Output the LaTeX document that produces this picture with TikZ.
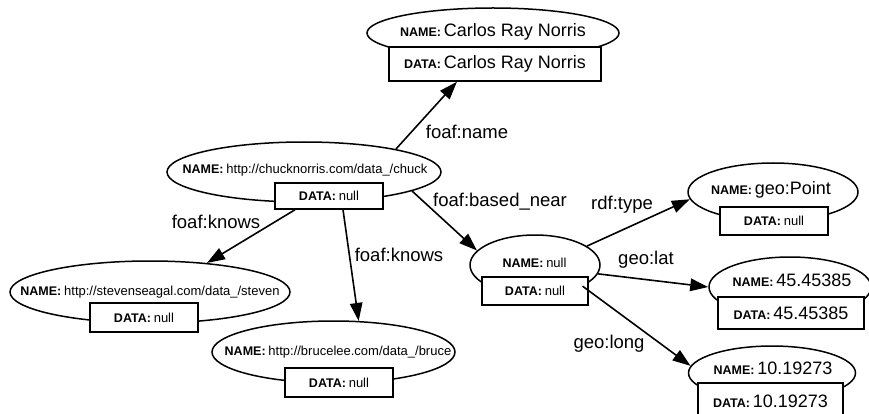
\documentclass[tikz,border=0pt]{standalone}
\usepackage{fontspec}
\setmainfont{Liberation Sans}
\usetikzlibrary{arrows.meta,shapes.geometric}
\newcommand{\namelbl}{{\fontsize{12.5}{14}\selectfont\bfseries NAME:}}
\newcommand{\datalbl}{{\fontsize{12.5}{14}\selectfont\bfseries DATA:}}
\newcommand{\smallval}[1]{{\fontsize{13}{15}\selectfont #1}}
\newcommand{\bigval}[1]{{\fontsize{18}{20}\selectfont #1}}
\begin{document}
\begin{tikzpicture}[x=1pt,y=-1pt,
  nodeell/.style={ellipse, draw, line width=1.5pt, fill=white, inner sep=0pt},
  databox/.style={rectangle, draw, line width=1.5pt, fill=white, inner sep=0pt},
  nametext/.style={inner sep=0pt},
  edgearrow/.style={line width=1.6pt, -{Triangle[length=18pt,width=12.5pt]}},
  elabel/.style={font=\fontsize{18.5}{21}\selectfont, inner sep=0pt},
]
\useasboundingbox (0,0) rectangle (869,414);

% ellipses
\node[nodeell, minimum width=252pt, minimum height=50pt] (carlos) at (493,33) {};
\node[nodeell, minimum width=274pt, minimum height=60pt] (chuck) at (304,172) {};
\node[nodeell, minimum width=280pt, minimum height=62pt] (steven) at (150,292) {};
\node[nodeell, minimum width=243pt, minimum height=62pt] (bruce) at (333.5,352) {};
\node[nodeell, minimum width=130pt, minimum height=60pt] (nullnode) at (535,265) {};
\node[nodeell, minimum width=170pt, minimum height=58pt] (geopoint) at (773,192) {};
\node[nodeell, minimum width=162pt, minimum height=60pt] (lat) at (790,287) {};
\node[nodeell, minimum width=167pt, minimum height=54pt] (long) at (772,373) {};

% name texts
\node[nametext] (carlosname) at (493,32) {\namelbl\ \bigval{Carlos Ray Norris}};
\node[nametext] (chuckname) at (305,170) {\namelbl\ \smallval{http://chucknorris.com/data\_/chuck}};
\node[nametext] (stevenname) at (150,292) {\namelbl\ \smallval{http://stevenseagal.com/data\_/steven}};
\node[nametext] (brucename) at (338,352) {\namelbl\ \smallval{http://brucelee.com/data\_/bruce}};
\node[nametext] (nullname) at (534.5,263) {\namelbl\ \smallval{null}};
\node[nametext] (geopointname) at (771,190) {\namelbl\ \bigval{geo:Point}};
\node[nametext] (latname) at (792,280) {\namelbl\ \bigval{45.45385}};
\node[nametext] (longname) at (773,368) {\namelbl\ \bigval{10.19273}};

% data boxes
\node[databox, minimum width=212pt, minimum height=34pt] (carlosbox) at (495,64) {\datalbl\ \bigval{Carlos Ray Norris}};
\node[databox, minimum width=108pt, minimum height=26pt] (chuckbox) at (329,196) {\datalbl\ \smallval{null}};
\node[databox, minimum width=108pt, minimum height=29pt] (stevenbox) at (144,317.5) {\datalbl\ \smallval{null}};
\node[databox, minimum width=108pt, minimum height=29pt] (brucebox) at (339,382.5) {\datalbl\ \smallval{null}};
\node[databox, minimum width=106pt, minimum height=28pt] (nullbox) at (535,291) {\datalbl\ \smallval{null}};
\node[databox, minimum width=108pt, minimum height=28pt] (geopointbox) at (774,221) {\datalbl\ \smallval{null}};
\node[databox, minimum width=146pt, minimum height=32pt] (latbox) at (791,313) {\datalbl\ \bigval{45.45385}};
\node[databox, minimum width=145pt, minimum height=36pt] (longbox) at (770.5,401) {\datalbl\ \bigval{10.19273}};

% edges
\draw[edgearrow] (chuck.14) -- (carlosbox.205);
\draw[edgearrow] ([xshift=-34pt]chuckbox.south) -- (steven.27);
\draw[edgearrow] ([xshift=14pt]chuckbox.south) -- (bruce.51);
\draw[edgearrow] (chuck.-10) -- (nullnode.166);
\draw[edgearrow] (nullnode.20) -- (geopoint.185);
\draw[edgearrow] (nullnode.-8) -- (lat.west);
\draw[edgearrow] (nullnode.-24) -- (long.175);

% edge labels
\node[elabel] (lname) at (467,132) {foaf:name};
\node[elabel] (lknows1) at (216,222) {foaf:knows};
\node[elabel] (lknows2) at (399,255) {foaf:knows};
\node[elabel] (lbased) at (500,202) {foaf:based\_near};
\node[elabel] (ltype) at (622,205) {rdf:type};
\node[elabel] (llat) at (646,260) {geo:lat};
\node[elabel] (llong) at (609,344) {geo:long};
\end{tikzpicture}
\end{document}
